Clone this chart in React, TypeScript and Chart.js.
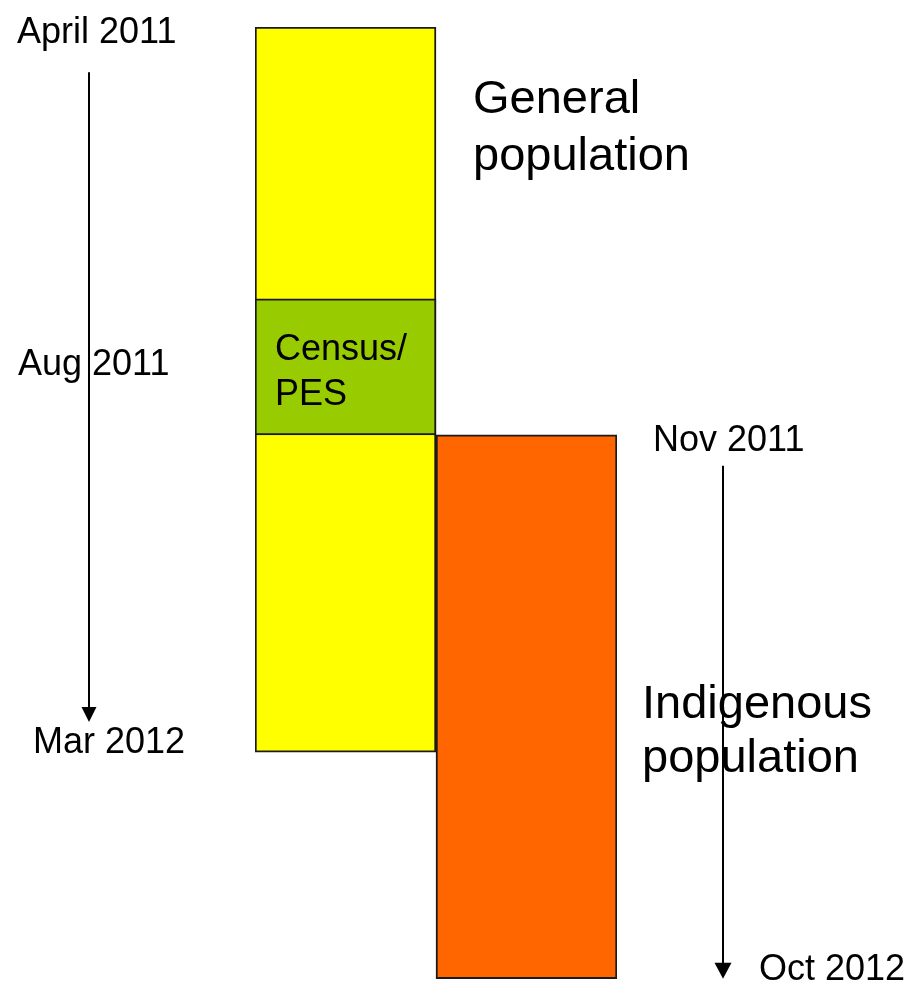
import React, { useEffect, useRef } from "react";
import { Chart, registerables } from "chart.js";

Chart.register(...registerables);

// Categories (columns of the diagram)
const categories = ["General population", "Indigenous population"];

// Floating bars in months after the start of April 2011 (schematic scale)
const generalPeriod: [number, number] = [0, 12];
const censusPeriod: [number, number] = [4.5, 6.75];
const indigenousPeriod: [number, number] = [6.75, 15.75];
const axisMax = 15.77;

// Timeline labels and their positions on the same scale
const leftTimelineLabels = ["April 2011", "Aug 2011", "Mar 2012"];
const leftTimelineValues = [0.05, 5.54, 11.8];
const rightTimelineLabels = ["Nov 2011", "Oct 2012"];
const rightTimelineValues = [6.8, 15.55];

// Arrow spans on the same scale
const leftArrowSpan: [number, number] = [0.75, 12];
const rightArrowSpan: [number, number] = [7.26, 15.75];

// Text inside / beside the bars
const censusText = ["Census/", "PES"];
const generalText = ["General", "population"];
const indigenousText = ["Indigenous", "population"];

const FONT = "Arial, 'Liberation Sans', sans-serif";

const annotationPlugin = {
  id: "annotations",
  afterDatasetsDraw(chart: any) {
    const ctx = chart.ctx as CanvasRenderingContext2D;
    const y = chart.scales.y;
    const x = chart.scales.x;
    const metaGen = chart.getDatasetMeta(0);
    const metaInd = chart.getDatasetMeta(2);
    const genBar = metaGen.data[0];
    const indBar = metaInd.data[1];
    const genLeft = genBar.x - genBar.width / 2;
    const genRight = genBar.x + genBar.width / 2;
    const indRight = indBar.x + indBar.width / 2;

    ctx.save();
    ctx.fillStyle = "#000";
    ctx.strokeStyle = "#000";
    ctx.textBaseline = "alphabetic";
    ctx.textAlign = "left";

    // timeline labels
    const small = 36;
    const cap = small * 0.716;
    ctx.font = `${small}px ${FONT}`;
    const leftXs = [17, 18, 33];
    leftTimelineLabels.forEach((t, i) => {
      ctx.fillText(t, leftXs[i], y.getPixelForValue(leftTimelineValues[i]) + cap / 2);
    });
    const rightXs = [653, 759];
    rightTimelineLabels.forEach((t, i) => {
      ctx.fillText(t, rightXs[i], y.getPixelForValue(rightTimelineValues[i]) + cap / 2);
    });

    // arrows
    const drawArrow = (ax: number, span: [number, number], hw: number, hh: number) => {
      const y0 = y.getPixelForValue(span[0]);
      const y1 = y.getPixelForValue(span[1]);
      ctx.lineWidth = 2;
      ctx.beginPath();
      ctx.moveTo(ax, y0);
      ctx.lineTo(ax, y1 - hh + 1);
      ctx.stroke();
      ctx.beginPath();
      ctx.moveTo(ax - hw / 2, y1 - hh);
      ctx.lineTo(ax + hw / 2, y1 - hh);
      ctx.lineTo(ax, y1);
      ctx.closePath();
      ctx.fill();
    };
    drawArrow(89, [leftArrowSpan[0], leftArrowSpan[1] - 0.5], 15, 15);
    drawArrow(723, rightArrowSpan, 17, 16);

    // Census / PES text
    ctx.font = `36px ${FONT}`;
    const cTop = y.getPixelForValue(censusPeriod[0]);
    ctx.fillText(censusText[0], genLeft + 20, cTop + 61);
    ctx.fillText(censusText[1], genLeft + 20, cTop + 106);

    // General population
    ctx.font = `47px ${FONT}`;
    ctx.fillText(generalText[0], genRight + 37, y.getPixelForValue(generalPeriod[0]) + 86);
    ctx.fillText(generalText[1], genRight + 37, y.getPixelForValue(generalPeriod[0]) + 143);

    // Indigenous population
    ctx.fillText(indigenousText[0], indRight + 25, y.getPixelForValue(indigenousPeriod[0]) + 283);
    ctx.fillText(indigenousText[1], indRight + 25, y.getPixelForValue(indigenousPeriod[0]) + 337);

    ctx.restore();
    void x;
  },
};

export default function App() {
  const ref = useRef<HTMLCanvasElement>(null);
  useEffect(() => {
    if (!ref.current) return;
    const chart = new Chart(ref.current, {
      type: "bar",
      data: {
        labels: categories,
        datasets: [
          {
            label: "General population",
            data: [generalPeriod, null] as any,
            backgroundColor: "#FFFF00",
            borderColor: "#1a1a1a",
            borderWidth: 2,
            borderSkipped: false,
            grouped: false,
            order: 2,
          },
          {
            label: "Census/PES",
            data: [censusPeriod, null] as any,
            backgroundColor: "#99CC00",
            borderColor: "#1a1a1a",
            borderWidth: 2,
            borderSkipped: false,
            grouped: false,
            order: 0,
          },
          {
            label: "Indigenous population",
            data: [null, indigenousPeriod] as any,
            backgroundColor: "#FF6600",
            borderColor: "#1a1a1a",
            borderWidth: 2,
            borderSkipped: false,
            grouped: false,
            order: 1,
          },
        ],
      },
      options: {
        responsive: false,
        animation: false,
        devicePixelRatio: 1,
        layout: { padding: { left: 255, right: 297, top: 27, bottom: 2 } },
        datasets: {
          bar: { categoryPercentage: 1, barPercentage: 1 },
        },
        scales: {
          x: { display: false, grid: { display: false } },
          y: { display: false, min: 0, max: axisMax, reverse: true },
        },
        plugins: {
          legend: { display: false },
          tooltip: { enabled: false },
          title: { display: false },
        },
      },
      plugins: [annotationPlugin],
    });
    return () => chart.destroy();
  }, []);

  return (
    <div style={{ position: "absolute", left: 0, top: 0, width: 914, height: 982, background: "#fff" }}>
      <canvas ref={ref} width={914} height={982} style={{ display: "block" }} />
    </div>
  );
}
